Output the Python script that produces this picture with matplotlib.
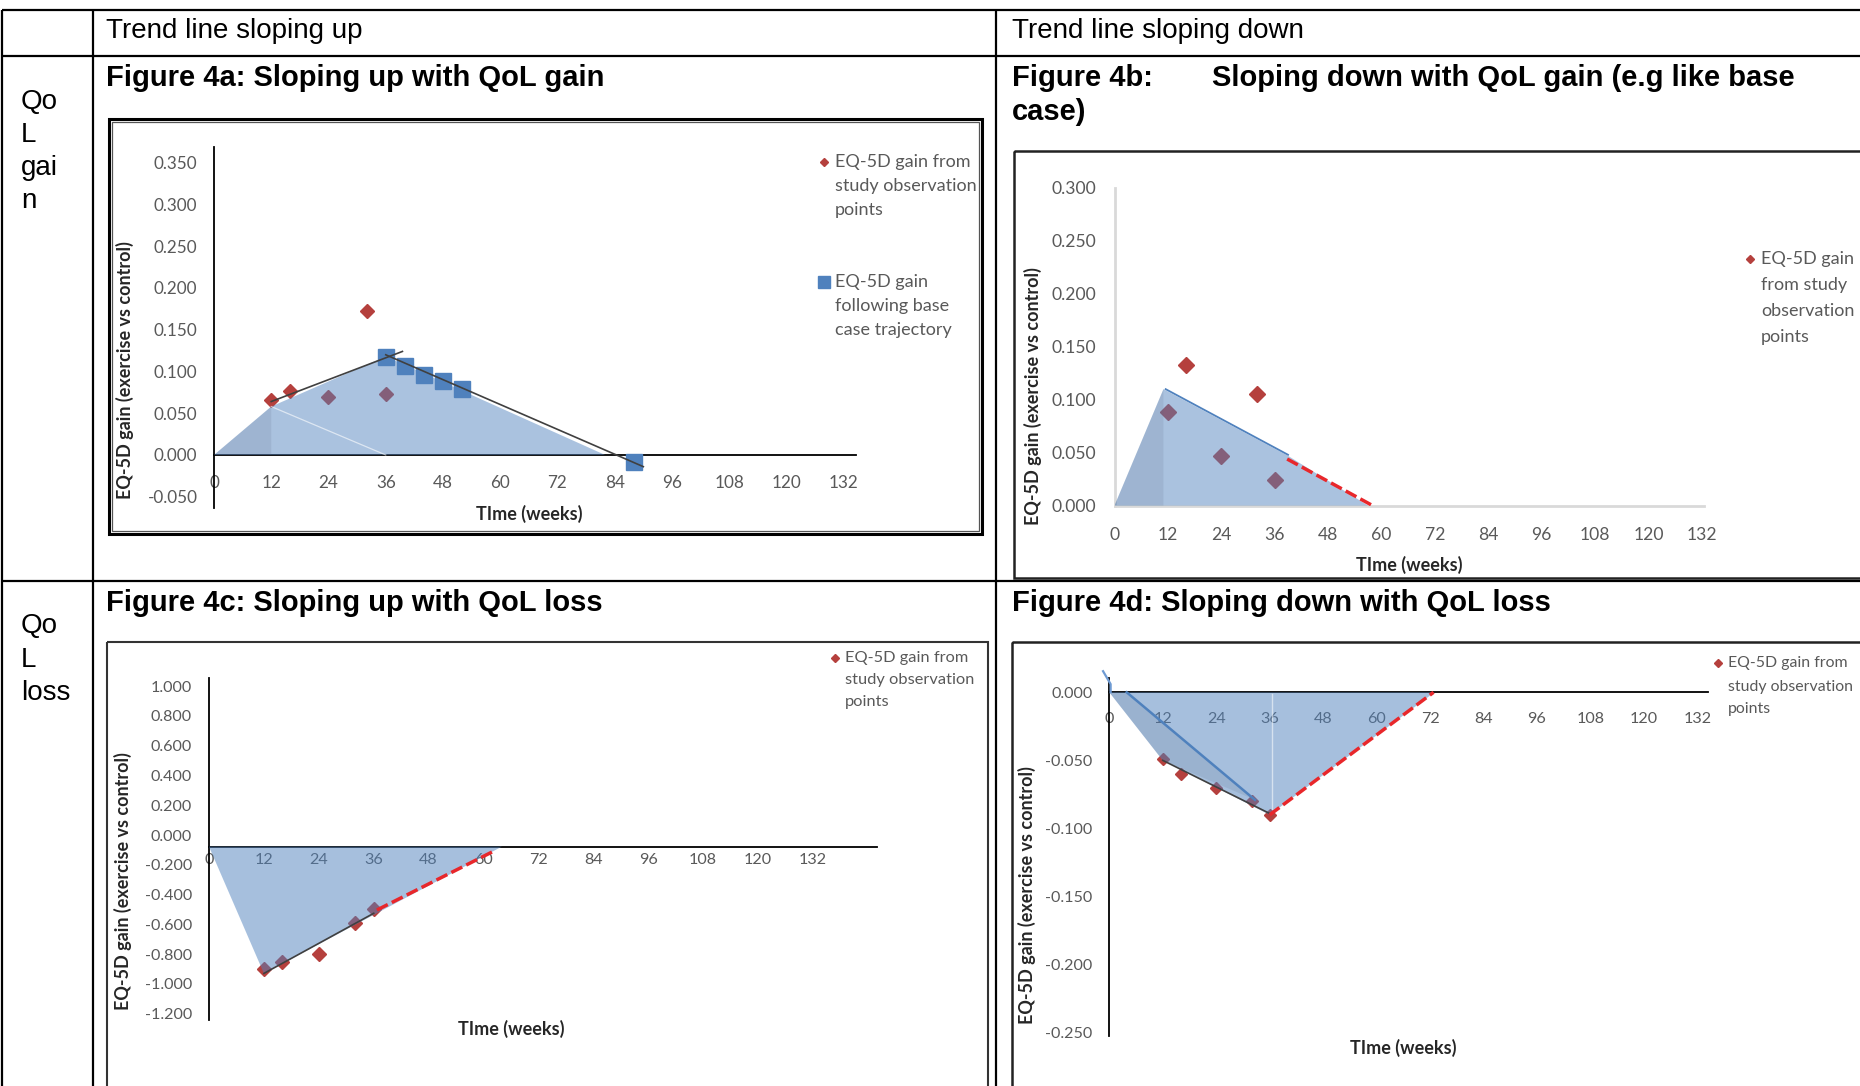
import matplotlib
matplotlib.use('Agg')
import matplotlib.pyplot as plt
from matplotlib.patches import Rectangle

W, H = 1860, 1086
plt.rcParams['font.family'] = ['Lato', 'DejaVu Sans']

ARIAL = ['Liberation Sans', 'DejaVu Sans']
RED = '#B5403D'
BLUE = '#4F81BD'
DASH_RED = '#E8272B'
TICK_GREY = '#595959'
LABEL_DARK = '#262626'

# ---------------- data ----------------
week_ticks = [0, 12, 24, 36, 48, 60, 72, 84, 96, 108, 120, 132]
week_labels = ['0', '12', '24', '36', '48', '60', '72', '84', '96', '108', '120', '132']

# Figure 4a
a_obs_x = [12, 16, 24, 32, 36]
a_obs_y = [0.066, 0.077, 0.069, 0.173, 0.073]
a_base_x = [36, 40, 44, 48, 52, 88]
a_base_y = [0.117, 0.106, 0.096, 0.088, 0.079, -0.008]
a_trend_x = [12, 39.5]
a_trend_y = [0.064, 0.124]
a_decline_x = [36, 90]
a_decline_y = [0.120, -0.014]
a_area_x = [0, 12, 36, 82]
a_area_y = [0, 0.058, 0.118, 0]
a_yticks = [-0.05, 0.0, 0.05, 0.10, 0.15, 0.20, 0.25, 0.30, 0.35]

# Figure 4b
b_obs_x = [12, 16, 24, 32, 36]
b_obs_y = [0.088, 0.133, 0.047, 0.105, 0.024]
b_trend_x = [11.5, 39]
b_trend_y = [0.110, 0.048]
b_extrap_x = [38.8, 58]
b_extrap_y = [0.044, 0.0]
b_area_x = [0, 11, 39, 57]
b_area_y = [0, 0.110, 0.047, 0]
b_yticks = [0.0, 0.05, 0.10, 0.15, 0.20, 0.25, 0.30]

# Figure 4c
c_obs_x = [12, 16, 24, 32, 36]
c_obs_y = [-0.90, -0.85, -0.80, -0.59, -0.50]
c_trend_x = [12, 36]
c_trend_y = [-0.93, -0.526]
c_extrap_x = [36.7, 62]
c_extrap_y = [-0.504, -0.112]
c_area_x = [0, 12, 64]
c_area_y = [-0.078, -0.93, -0.078]
c_cross = -0.078
c_yticks = [-1.2, -1.0, -0.8, -0.6, -0.4, -0.2, 0.0, 0.2, 0.4, 0.6, 0.8, 1.0]

# Figure 4d
d_obs_x = [12, 16, 24, 32, 36]
d_obs_y = [-0.049, -0.060, -0.070, -0.080, -0.090]
d_trend_x = [12, 36]
d_trend_y = [-0.050, -0.089]
d_extrap_x = [36, 72.8]
d_extrap_y = [-0.090, 0.0]
d_area_x = [0, 12, 36, 73]
d_area_y = [0, -0.050, -0.090, 0]
d_inner_x = [3.9, 32.7]
d_inner_y = [0.0, -0.079]
d_spike_x = [-1.4, 0.3, 0.3]
d_spike_y = [0.0155, 0.006, 0.0]
d_yticks = [-0.25, -0.20, -0.15, -0.10, -0.05, 0.0]

legend_obs = ['EQ-5D gain from', 'study observation', 'points']
legend_base = ['EQ-5D gain', 'following base', 'case trajectory']
legend_obs_b = ['EQ-5D gain', 'from study', 'observation', 'points']

# ---------------- figure / table ----------------
fig = plt.figure(figsize=(W / 100, H / 100), dpi=100)
bg = fig.add_axes([0, 0, 1, 1])
bg.set_xlim(0, W)
bg.set_ylim(H, 0)
bg.axis('off')

for y in [10, 56, 581]:
    bg.plot([2, W], [y, y], color='black', lw=1.6, solid_capstyle='butt')
for x in [2, 92.5, 996]:
    bg.plot([x, x], [10, H], color='black', lw=1.6, solid_capstyle='butt')

bg.text(106, 31, 'Trend line sloping up', fontsize=20, family=ARIAL, va='center')
bg.text(1012, 31, 'Trend line sloping down', fontsize=20, family=ARIAL, va='center')
bg.text(106, 78, 'Figure 4a: Sloping up with QoL gain', fontsize=21, family=ARIAL,
        weight='bold', va='center')
bg.text(1012, 78, 'Figure 4b:', fontsize=21, family=ARIAL, weight='bold', va='center')
bg.text(1212, 78, 'Sloping down with QoL gain (e.g like base', fontsize=21, family=ARIAL,
        weight='bold', va='center')
bg.text(1012, 112, 'case)', fontsize=21, family=ARIAL, weight='bold', va='center')
bg.text(106, 603, 'Figure 4c: Sloping up with QoL loss', fontsize=21, family=ARIAL,
        weight='bold', va='center')
bg.text(1012, 603, 'Figure 4d: Sloping down with QoL loss', fontsize=21, family=ARIAL,
        weight='bold', va='center')

for y, t in zip([102, 135, 168, 201], ['Qo', 'L', 'gai', 'n']):
    bg.text(21, y, t, fontsize=20, family=ARIAL, va='center')
for y, t in zip([626, 660, 693], ['Qo', 'L', 'loss']):
    bg.text(21, y, t, fontsize=20, family=ARIAL, va='center')

# chart frames
bg.add_patch(Rectangle((109, 119), 873, 415, fill=False, ec='black', lw=2.2))
bg.add_patch(Rectangle((112, 122), 867, 409, fill=False, ec='#555555', lw=0.9))
bg.add_patch(Rectangle((1014, 151), 900, 427, fill=False, ec='#222222', lw=1.8))
bg.add_patch(Rectangle((107, 642), 881, 500, fill=False, ec='#333333', lw=1.5))
bg.add_patch(Rectangle((1012, 642), 900, 500, fill=False, ec='#222222', lw=1.8))


def add_chart(left, right, top, bottom):
    ax = fig.add_axes([left / W, 1 - bottom / H, (right - left) / W, (bottom - top) / H])
    ax.set_facecolor('none')
    return ax


def style(ax, yticks, xpad, ypad, axis_color, cross, size=12.3, axis_lw=1.3):
    ax.set_xticks(week_ticks)
    ax.set_xticklabels(week_labels)
    ax.set_yticks(yticks)
    ax.set_yticklabels([f'{v:.3f}' for v in yticks])
    ax.tick_params(axis='x', length=0, pad=xpad, labelsize=size, labelcolor=TICK_GREY)
    ax.tick_params(axis='y', length=0, pad=ypad, labelsize=size, labelcolor=TICK_GREY)
    ax.spines['top'].set_visible(False)
    ax.spines['right'].set_visible(False)
    for s in ['left', 'bottom']:
        ax.spines[s].set_color(axis_color)
        ax.spines[s].set_linewidth(axis_lw)
    ax.spines['bottom'].set_position(('data', cross))


def axis_titles(xx, xy, yx, yy):
    bg.text(xx, xy, 'TIme (weeks)', fontsize=13, weight='bold', color=LABEL_DARK,
            ha='center', va='center')
    bg.text(yx, yy, 'EQ-5D gain (exercise vs control)', fontsize=13, weight='bold',
            color=LABEL_DARK, ha='center', va='center', rotation=90)


def legend_entry(mx, tx, ys, lines, marker, color, ms, size=13):
    bg.plot([mx], [ys[0]], marker=marker, color=color, ms=ms, ls='none')
    for y, t in zip(ys, lines):
        bg.text(tx, y, t, fontsize=size, color=TICK_GREY, va='center')


# ---------------- Figure 4a ----------------
ax = add_chart(214, 855.6, 147.3, 508.4)
ax.set_xlim(0, 134.5)
ax.set_ylim(-0.064, 0.3685)
ax.plot(a_obs_x, a_obs_y, 'D', color=RED, ms=7.2, zorder=2, clip_on=False)
ax.fill(a_area_x, a_area_y, color=BLUE, alpha=0.48, lw=0, zorder=3)
ax.fill(a_area_x[:2] + [a_area_x[1]], a_area_y[:2] + [0], color='#5A6A85', alpha=0.15,
        lw=0, zorder=3)
ax.plot([a_area_x[1], a_area_x[2]], [a_area_y[1], 0], color='white', lw=0.9, alpha=0.6,
        zorder=3)
ax.plot(a_base_x, a_base_y, 's', color=BLUE, ms=11, zorder=4, clip_on=False)
ax.plot(a_trend_x, a_trend_y, color='#404040', lw=1.2, zorder=5)
ax.plot(a_decline_x, a_decline_y, color='#404040', lw=1.2, zorder=5, clip_on=False)
style(ax, a_yticks, 14.4, 11.9, 'black', 0)
axis_titles(529, 514, 125, 370)
legend_entry(824, 835, [162, 186, 210], legend_obs, 'D', RED, 4)
legend_entry(824, 835, [282, 306, 330], legend_base, 's', BLUE, 9)

# ---------------- Figure 4b ----------------
ax = add_chart(1114.5, 1703.7, 188, 505.6)
ax.set_xlim(0, 132.4)
ax.set_ylim(0, 0.3)
ax.plot(b_obs_x, b_obs_y, 'D', color=RED, ms=7.7, zorder=2, clip_on=False)
ax.fill(b_area_x, b_area_y, color=BLUE, alpha=0.48, lw=0, zorder=3)
ax.fill(b_area_x[:2] + [b_area_x[1]], b_area_y[:2] + [0], color='#5A6A85', alpha=0.15,
        lw=0, zorder=3)
ax.plot(b_trend_x, b_trend_y, color=BLUE, lw=1.3, zorder=5)
ax.plot(b_extrap_x, b_extrap_y, color=DASH_RED, lw=2.5, ls=(0, (3.5, 1.3)), zorder=5)
style(ax, b_yticks, 15.5, 13.4, '#D9D9D9', 0, size=12.6, axis_lw=2)
axis_titles(1409, 565, 1033, 396)
legend_entry(1750, 1761, [259, 285, 311, 337], legend_obs_b, 'D', RED, 4)

# ---------------- Figure 4c ----------------
ax = add_chart(209, 877, 678.3, 1020)
ax.set_xlim(0, 146)
ax.set_ylim(-1.243, 1.053)
ax.plot(c_obs_x, c_obs_y, 'D', color=RED, ms=7.6, zorder=2, clip_on=False)
ax.fill(c_area_x, c_area_y, color=BLUE, alpha=0.5, lw=0, zorder=3)
ax.plot(c_trend_x, c_trend_y, color='#404040', lw=1.2, zorder=5)
ax.plot(c_extrap_x, c_extrap_y, color=DASH_RED, lw=2.5, ls=(0, (3.5, 1.3)), zorder=5)
style(ax, c_yticks, 4.6, 12.4, 'black', c_cross, size=11.6)
axis_titles(511, 1029, 123, 881)
legend_entry(835, 845, [658, 680, 702], legend_obs, 'D', RED, 4, size=11.8)

# ---------------- Figure 4d ----------------
ax = add_chart(1109.3, 1707.5, 678, 1036.4)
ax.set_xlim(0, 134.3)
ax.set_ylim(-0.2527, 0.0105)
ax.plot(d_obs_x, d_obs_y, 'D', color=RED, ms=6.4, zorder=2, clip_on=False)
ax.fill(d_area_x, d_area_y, color=BLUE, alpha=0.5, lw=0, zorder=3)
ax.fill(d_area_x[:2] + d_inner_x[::-1], d_area_y[:2] + d_inner_y[::-1], color='#5A6A85',
        alpha=0.15, lw=0, zorder=3)
ax.plot(d_inner_x, d_inner_y, color=BLUE, lw=1.8, zorder=4)
ax.plot([36.6, 36.6], [-0.001, -0.086], color='white', lw=1.0, alpha=0.55, zorder=4)
ax.plot(d_spike_x, d_spike_y, color='#6F9BD3', lw=1.6, zorder=4, clip_on=False)
ax.plot(d_trend_x, d_trend_y, color='#404040', lw=1.2, zorder=5)
ax.plot(d_extrap_x, d_extrap_y, color=DASH_RED, lw=2.5, ls=(0, (3.5, 1.3)), zorder=5)
style(ax, d_yticks, 14.4, 12, 'black', 0, size=11.6)
axis_titles(1403, 1048, 1027, 895)
legend_entry(1718, 1728, [663, 687, 709], legend_obs, 'D', RED, 4, size=11.4)

fig.savefig('out.png', dpi=100)
